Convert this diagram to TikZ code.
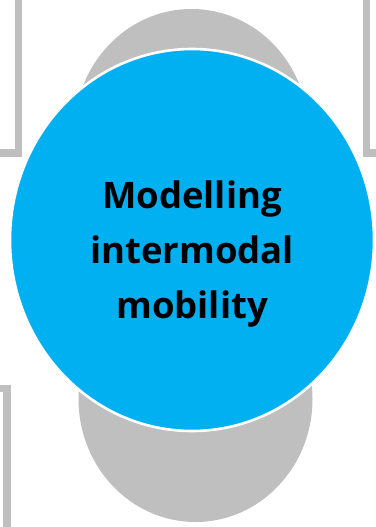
\documentclass[tikz,border=0pt]{standalone}
\usepackage{fontspec}
\newfontfamily\hubfont{Open Sans}
\usetikzlibrary{shapes.geometric}

\definecolor{hubblue}{HTML}{00B0F0}
\definecolor{petalgray}{HTML}{BFBFBF}

\begin{document}
\begin{tikzpicture}[
		x=1pt, y=1pt,
		frame/.style={draw=petalgray, line width=7.3pt},
		petal/.style={ellipse, fill=petalgray, inner sep=0pt, outer sep=0pt,
			minimum width=234pt, minimum height=246pt},
		hub/.style={ellipse, fill=hubblue, draw=white, line width=2.6pt,
			inner sep=0pt, minimum width=364pt, minimum height=382pt},
		title/.style={align=center, font=\hubfont\bfseries\fontsize{36.5}{55}\selectfont},
		]
		\useasboundingbox (0,0) rectangle (375,-527);
		
		% side frames, only their corners show
		\draw[frame] (18.5,5) -- (18.5,-153) -- (-5,-153);
		\draw[frame] (366.5,5) -- (366.5,-153) -- (380,-153);
		\draw[frame] (-5,-388.7) -- (7,-388.7) -- (7,-535);
		
		\node[petal] (top) at (191.5,-132) {};
		\node[petal] (bottom) at (195.5,-399) {};
		
		\node[hub] (hub) at (192,-240) {};
		\node[title, yshift=-14pt] (label) at (hub.center) {Modelling\\intermodal\\mobility};
		
	\end{tikzpicture}
\end{document}
